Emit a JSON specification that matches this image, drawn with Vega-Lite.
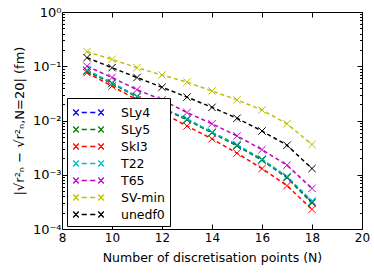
{
  "$schema": "https://vega.github.io/schema/vega-lite/v6.json",
  "width": 300,
  "height": 217,
  "autosize": {"type": "none"},
  "padding": {"left": 62, "top": 12, "right": 12, "bottom": 45},
  "config": {
    "font": "DejaVu Sans",
    "view": {"stroke": "black", "strokeWidth": 1},
    "axis": {"domain": false, "grid": false, "labelFont": "DejaVu Sans", "titleFont": "DejaVu Sans", "labelColor": "black", "titleColor": "black", "tickColor": "black", "labelFontSize": 12, "titleFontSize": 13, "titleFontWeight": "normal"}
  },
  "data": {"values": [
    {"model": "SLy4", "N": 9, "r": 0.083}, {"model": "SLy4", "N": 10, "r": 0.049}, {"model": "SLy4", "N": 11, "r": 0.0275}, {"model": "SLy4", "N": 12, "r": 0.017}, {"model": "SLy4", "N": 13, "r": 0.0105}, {"model": "SLy4", "N": 14, "r": 0.006}, {"model": "SLy4", "N": 15, "r": 0.0035}, {"model": "SLy4", "N": 16, "r": 0.0019}, {"model": "SLy4", "N": 17, "r": 0.0009}, {"model": "SLy4", "N": 18, "r": 0.00031},
    {"model": "SLy5", "N": 9, "r": 0.081}, {"model": "SLy5", "N": 10, "r": 0.048}, {"model": "SLy5", "N": 11, "r": 0.027}, {"model": "SLy5", "N": 12, "r": 0.0166}, {"model": "SLy5", "N": 13, "r": 0.0103}, {"model": "SLy5", "N": 14, "r": 0.0059}, {"model": "SLy5", "N": 15, "r": 0.0034}, {"model": "SLy5", "N": 16, "r": 0.00185}, {"model": "SLy5", "N": 17, "r": 0.00088}, {"model": "SLy5", "N": 18, "r": 0.0003},
    {"model": "SkI3", "N": 9, "r": 0.076}, {"model": "SkI3", "N": 10, "r": 0.043}, {"model": "SkI3", "N": 11, "r": 0.024}, {"model": "SkI3", "N": 12, "r": 0.014}, {"model": "SkI3", "N": 13, "r": 0.0079}, {"model": "SkI3", "N": 14, "r": 0.0046}, {"model": "SkI3", "N": 15, "r": 0.0025}, {"model": "SkI3", "N": 16, "r": 0.0013}, {"model": "SkI3", "N": 17, "r": 0.00063}, {"model": "SkI3", "N": 18, "r": 0.00023},
    {"model": "T22", "N": 9, "r": 0.085}, {"model": "T22", "N": 10, "r": 0.05}, {"model": "T22", "N": 11, "r": 0.028}, {"model": "T22", "N": 12, "r": 0.0173}, {"model": "T22", "N": 13, "r": 0.0108}, {"model": "T22", "N": 14, "r": 0.0061}, {"model": "T22", "N": 15, "r": 0.0036}, {"model": "T22", "N": 16, "r": 0.00195}, {"model": "T22", "N": 17, "r": 0.00093}, {"model": "T22", "N": 18, "r": 0.00033},
    {"model": "T65", "N": 9, "r": 0.1}, {"model": "T65", "N": 10, "r": 0.062}, {"model": "T65", "N": 11, "r": 0.037}, {"model": "T65", "N": 12, "r": 0.024}, {"model": "T65", "N": 13, "r": 0.014}, {"model": "T65", "N": 14, "r": 0.0087}, {"model": "T65", "N": 15, "r": 0.0052}, {"model": "T65", "N": 16, "r": 0.0029}, {"model": "T65", "N": 17, "r": 0.0015}, {"model": "T65", "N": 18, "r": 0.00056},
    {"model": "SV-min", "N": 9, "r": 0.186}, {"model": "SV-min", "N": 10, "r": 0.134}, {"model": "SV-min", "N": 11, "r": 0.094}, {"model": "SV-min", "N": 12, "r": 0.069}, {"model": "SV-min", "N": 13, "r": 0.051}, {"model": "SV-min", "N": 14, "r": 0.035}, {"model": "SV-min", "N": 15, "r": 0.024}, {"model": "SV-min", "N": 16, "r": 0.0156}, {"model": "SV-min", "N": 17, "r": 0.0087}, {"model": "SV-min", "N": 18, "r": 0.0036},
    {"model": "unedf0", "N": 9, "r": 0.144}, {"model": "unedf0", "N": 10, "r": 0.094}, {"model": "unedf0", "N": 11, "r": 0.062}, {"model": "unedf0", "N": 12, "r": 0.041}, {"model": "unedf0", "N": 13, "r": 0.027}, {"model": "unedf0", "N": 14, "r": 0.0175}, {"model": "unedf0", "N": 15, "r": 0.011}, {"model": "unedf0", "N": 16, "r": 0.0064}, {"model": "unedf0", "N": 17, "r": 0.0035}, {"model": "unedf0", "N": 18, "r": 0.0013}
  ]},
  "layer": [
    {
      "layer": [
        {"mark": {"type": "line", "strokeDash": [4, 3], "strokeWidth": 1.5}},
        {"mark": {"type": "point", "shape": "M-1,-1L1,1M-1,1L1,-1", "filled": false, "size": 55, "strokeWidth": 1, "opacity": 1}}
      ],
      "encoding": {
        "x": {"field": "N", "type": "quantitative", "scale": {"domain": [8, 20], "nice": false, "zero": false},
          "axis": {"title": "Number of discretisation points (N)", "titleFontSize": 12.5, "values": [8, 10, 12, 14, 16, 18, 20], "tickSize": -5, "labelPadding": 8, "titlePadding": 8, "labelFlush": false}},
        "y": {"field": "r", "type": "quantitative", "scale": {"type": "log", "domain": [0.0001, 1], "nice": false},
          "axis": {"title": "|√r²ₙ − √r²ₙ,N=20| (fm)",
            "values": [0.0001,0.0002,0.0003,0.0004,0.0005,0.0006,0.0007,0.0008,0.0009,0.001,0.002,0.003,0.004,0.005,0.006,0.007,0.008,0.009,0.01,0.02,0.03,0.04,0.05,0.06,0.07,0.08,0.09,0.1,0.2,0.3,0.4,0.5,0.6,0.7,0.8,0.9,1],
            "tickSize": {"condition": {"test": "abs(log(datum.value)/LN10 - round(log(datum.value)/LN10)) < 0.000001", "value": -5}, "value": -2.5},
            "labelExpr": "abs(log(datum.value)/LN10 - round(log(datum.value)/LN10)) < 0.000001 ? ({'0':'10⁰','-1':'10⁻¹','-2':'10⁻²','-3':'10⁻³','-4':'10⁻⁴'})['' + round(log(datum.value)/LN10)] : ''",
            "labelOverlap": false, "labelPadding": 6, "labelFontSize": 13, "titlePadding": 6, "labelFlush": false}},
        "color": {"field": "model", "type": "nominal",
          "scale": {"domain": ["SLy4", "SLy5", "SkI3", "T22", "T65", "SV-min", "unedf0"], "range": ["#0000ff", "#008000", "#ff0000", "#00bfbf", "#bf00bf", "#bfbf00", "#000000"]},
          "legend": {"title": null, "orient": "none", "legendX": 5, "legendY": 86, "fillColor": "white", "strokeColor": "black", "padding": 5,
            "symbolType": "M-1.8,-0.35L-1.15,0.35M-1.8,0.35L-1.15,-0.35M-0.8,0L-0.2,0M0.2,0L0.8,0M1.15,-0.35L1.8,0.35M1.15,0.35L1.8,-0.35",
            "symbolSize": 289, "symbolOffset": 7, "symbolStrokeWidth": 1.3, "symbolFillColor": "transparent", "labelFontSize": 12.5, "labelFont": "DejaVu Sans", "rowPadding": 1, "labelOffset": 23}}
      }
    },
    {
      "mark": {"type": "point", "opacity": 0},
      "encoding": {
        "x": {"field": "N", "type": "quantitative", "scale": {"domain": [8, 20], "nice": false, "zero": false},
          "axis": {"orient": "top", "title": null, "labels": false, "values": [8, 10, 12, 14, 16, 18, 20], "tickSize": -5}},
        "y": {"field": "r", "type": "quantitative", "scale": {"type": "log", "domain": [0.0001, 1], "nice": false},
          "axis": {"orient": "right", "title": null, "labels": false,
            "values": [0.0001,0.0002,0.0003,0.0004,0.0005,0.0006,0.0007,0.0008,0.0009,0.001,0.002,0.003,0.004,0.005,0.006,0.007,0.008,0.009,0.01,0.02,0.03,0.04,0.05,0.06,0.07,0.08,0.09,0.1,0.2,0.3,0.4,0.5,0.6,0.7,0.8,0.9,1],
            "tickSize": {"condition": {"test": "abs(log(datum.value)/LN10 - round(log(datum.value)/LN10)) < 0.000001", "value": -5}, "value": -2.5}}}
      }
    }
  ],
  "resolve": {"scale": {"x": "independent", "y": "independent"}}
}
